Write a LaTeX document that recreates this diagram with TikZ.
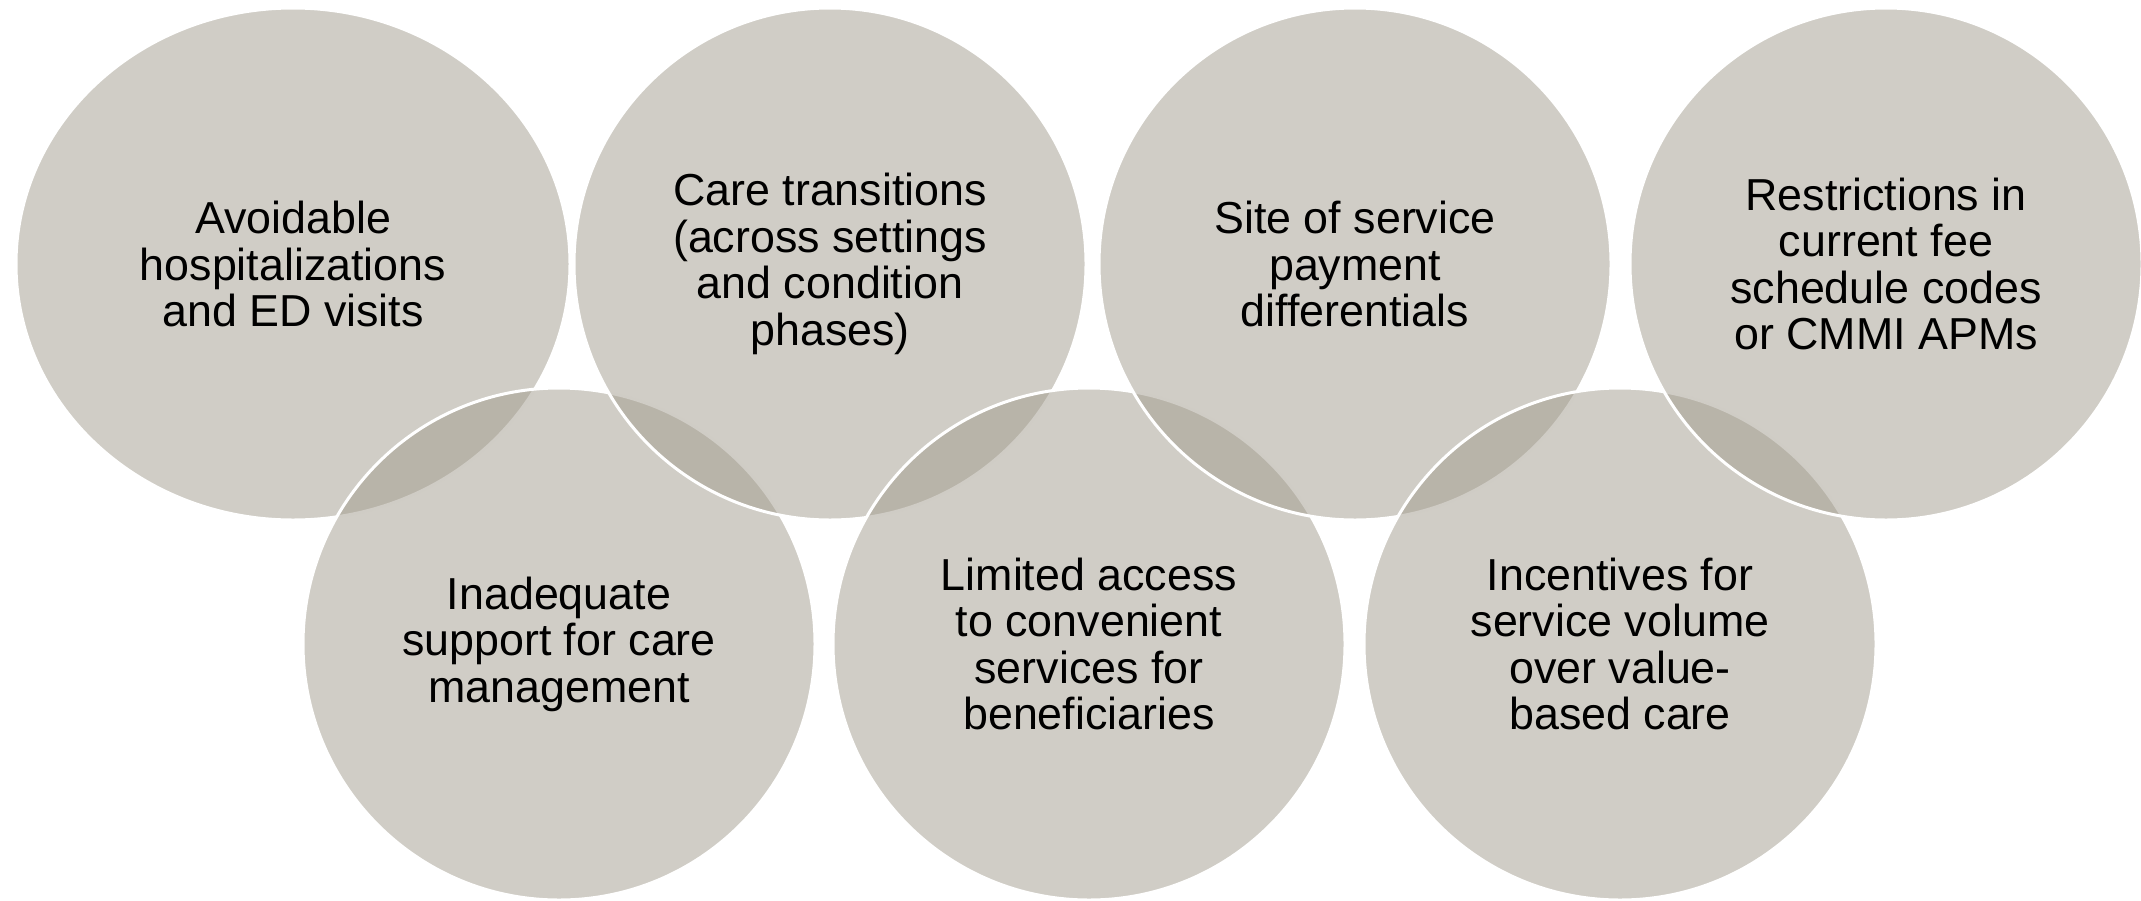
\documentclass[tikz,border=0pt]{standalone}
\usepackage{fontspec}
\setmainfont{Liberation Sans}
\usetikzlibrary{shapes.geometric}
\definecolor{vennfill}{RGB}{161,155,141}
\begin{document}
\begin{tikzpicture}[x=1pt,y=-1pt,
  venn/.style={fill=vennfill, fill opacity=0.5, text opacity=1, draw=white,
    line width=3pt, inner sep=0pt, outer sep=0pt, align=center, text=black,
    font=\fontsize{44.8}{46.5}\selectfont},
  vcirc/.style={venn, circle, minimum size=512pt},
  vell/.style={venn, ellipse, minimum width=554pt, minimum height=512pt}]
\useasboundingbox (0,0) rectangle (2141,900);
\node[vell]  (c1) at (293,264)  {Avoidable\\hospitalizations\\and ED visits};
\node[vcirc] (c5) at (559,644)  {Inadequate\\support for care\\management};
\node[vcirc] (c2) at (830,264)  {Care transitions\\(across settings\\and condition\\phases)};
\node[vcirc] (c6) at (1089,644) {Limited access\\to convenient\\services for\\beneficiaries};
\node[vcirc] (c3) at (1355,264) {Site of service\\payment\\differentials};
\node[vcirc] (c7) at (1620,644) {Incentives for\\service volume\\over value-\\based care};
\node[vcirc] (c4) at (1886,264) {Restrictions in\\current fee\\schedule codes\\or CMMI APMs};
\end{tikzpicture}
\end{document}
